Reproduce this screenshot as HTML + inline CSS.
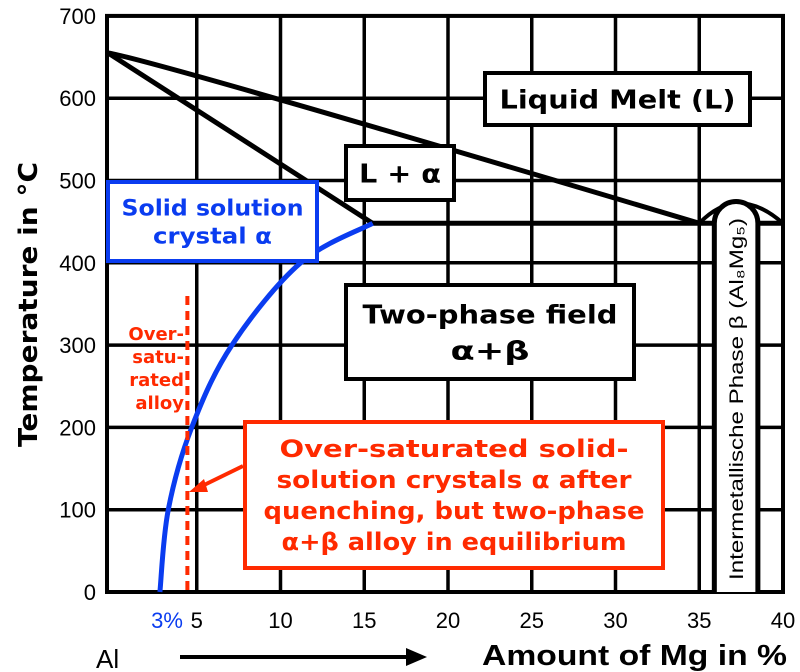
<!DOCTYPE html>
<html><head><meta charset="utf-8"><style>
body{margin:0;background:#fff;width:800px;height:672px;overflow:hidden}
svg{display:block;font-family:"DejaVu Sans","Liberation Sans",sans-serif}
</style></head><body>
<svg id="c" width="800" height="672">
<g id="grid"></g>
<g id="curves"></g>
<g id="labels"></g>
</svg>
<script>
const xTicks=[5,10,15,20,25,30,35,40];
const yTicks=[0,100,200,300,400,500,600,700];
const liquidusMg=[0,10,35];
const liquidusT=[655,598,448];
const solidus=[[0,655],[15.5,448]];
const solvusMg=[2.8,3.3,4.7,7.1,11.2,15.5];
const solvusT=[0,100,200,300,400,448];
const eutecticT=448;
const phaseMg=[35.9,38.5];
const alloyMg=4.5;
const X=v=>113+v*16.75, Y=t=>592-t*0.823;
const NS='http://www.w3.org/2000/svg';
function mk(p,tag,a,name,txt){const e=document.createElementNS(NS,tag);for(const k in a)e.setAttribute(k,a[k]);


if(txt!==undefined)e.textContent=txt;p.appendChild(e);return e;}
const g=document.getElementById('grid'),cv=document.getElementById('curves'),lb=document.getElementById('labels');
xTicks.forEach(v=>{mk(g,'line',{x1:X(v),x2:X(v),y1:Y(700),y2:Y(0),stroke:'#000','stroke-width':3.5},'x-gridline');
mk(lb,'text',{x:X(v),y:628,'text-anchor':'middle','font-size':22,'font-family':'Liberation Sans'},'x-tick-label',v);});
yTicks.forEach(v=>{mk(g,'line',{x1:107,x2:783,y1:Y(v),y2:Y(v),stroke:'#000','stroke-width':3.5},'y-gridline');
mk(lb,'text',{x:96,y:Y(v)+8,'text-anchor':'end','font-size':22,'font-family':'Liberation Sans'},'y-tick-label',v);});
mk(g,'rect',{x:107,y:Y(700),width:676,height:Y(0)-Y(700),fill:'none',stroke:'#000','stroke-width':4},'plot-frame');
const lq=liquidusMg.map((m,i)=>[X(m),Y(liquidusT[i])]);lq[0][0]-=5;
mk(cv,'path',{d:`M${lq[0][0]} ${lq[0][1]} Q${2*lq[1][0]-(lq[0][0]+lq[2][0])/2} ${2*lq[1][1]-(lq[0][1]+lq[2][1])/2} ${lq[2][0]} ${lq[2][1]}`,fill:'none',stroke:'#000','stroke-width':5},'liquidus-line');
mk(cv,'line',{x1:X(solidus[0][0])-5,y1:Y(solidus[0][1]),x2:X(solidus[1][0]),y2:Y(solidus[1][1]),stroke:'#000','stroke-width':5},'solidus-line');
mk(cv,'line',{x1:X(solidus[1][0]),y1:Y(eutecticT),x2:783,y2:Y(eutecticT),stroke:'#000','stroke-width':5},'eutectic-line');
mk(cv,'path',{d:`M${X(35)} ${Y(eutecticT)} Q${X(37.3)} ${Y(eutecticT)-40} 783 ${Y(eutecticT)}`,fill:'none',stroke:'#000','stroke-width':4},'beta-dome');
const px1=X(phaseMg[0]),px2=X(phaseMg[1]),r=(px2-px1)/2;
mk(cv,'path',{d:`M${px1} ${Y(0)} L${px1} ${Y(eutecticT)} A${r} ${r} 0 0 1 ${px2} ${Y(eutecticT)} L${px2} ${Y(0)}`,fill:'#fff',stroke:'#000','stroke-width':5},'beta-phase-band');
mk(cv,'text',{x:0,y:0,'font-size':19,textLength:362,lengthAdjust:'spacingAndGlyphs','font-family':'Liberation Sans',transform:`translate(${(px1+px2)/2+7},580) rotate(-90)`},'beta-phase-label','Intermetallische Phase β (Al₈Mg₅)');
let pts=solvusMg.map((m,i)=>[X(m),Y(solvusT[i])]);
let d='M'+pts[0].join(' ');
for(let i=0;i<pts.length-1;i++){const p0=pts[Math.max(i-1,0)],p1=pts[i],p2=pts[i+1],p3=pts[Math.min(i+2,pts.length-1)];
d+=` C${p1[0]+(p2[0]-p0[0])/6} ${p1[1]+(p2[1]-p0[1])/6} ${p2[0]-(p3[0]-p1[0])/6} ${p2[1]-(p3[1]-p1[1])/6} ${p2[0]} ${p2[1]}`;}
mk(cv,'path',{d,fill:'none',stroke:'#0a3cf0','stroke-width':5},'solvus-curve');
mk(cv,'line',{x1:X(alloyMg)-1,x2:X(alloyMg)-1,y1:296,y2:Y(0),stroke:'#ff2a00','stroke-width':4,'stroke-dasharray':'9 6'},'alloy-line');
function box(x,y,w,h,col,name,lines,widths,fs,lh){mk(lb,'rect',{x,y,width:w,height:h,fill:'#fff',stroke:col,'stroke-width':4},name);
lines.forEach((t,i)=>mk(lb,'text',{x:x+w/2,y:y+h/2+(i-(lines.length-1)/2)*lh+fs*0.36,'text-anchor':'middle','font-size':fs,'font-weight':'bold',fill:col,textLength:widths[i],lengthAdjust:'spacingAndGlyphs'},name+'-text',t));}
box(485,73,265,52,'#000','liquid-box',['Liquid Melt (L)'],[236],26,28);
box(346,146,108,54,'#000','l-alpha-box',['L + α'],[82],26,28);
box(108,182,209,79,'#0a3cf0','alpha-box',['Solid solution','crystal α'],[182,119],22,28);
box(346,285,288,94,'#000','two-phase-box',['Two-phase field','α+β'],[255,79],26,36);
box(245,422,418,146,'#ff2a00','quench-box',['Over-saturated solid-','solution crystals α after','quenching, but two-phase','α+β alloy in equilibrium'],[349,355,381,345],24,31);
['Over-','satu-','rated','alloy'].forEach((t,i)=>mk(lb,'text',{x:184,y:340+i*23,'text-anchor':'end','font-size':18,'font-weight':'bold',fill:'#ff2a00'},'alloy-label',t));
mk(lb,'line',{x1:243,y1:466,x2:200,y2:487,stroke:'#ff2a00','stroke-width':4},'quench-arrow');
mk(lb,'path',{d:'M189 492 L204 479 L208 492 Z',fill:'#ff2a00'},'quench-arrowhead');
mk(lb,'text',{x:167,y:628,'text-anchor':'middle','font-size':22,fill:'#0a3cf0','font-family':'Liberation Sans'},'alloy-tick-label','3%');
mk(lb,'text',{x:0,y:0,'font-size':26,'font-weight':'bold',textLength:285,lengthAdjust:'spacingAndGlyphs',transform:'translate(37,447) rotate(-90)'},'y-axis-title','Temperature in °C');
mk(lb,'text',{x:96,y:668,'font-size':26,'font-family':'Liberation Sans'},'al-label','Al');
mk(lb,'line',{x1:180,y1:657,x2:410,y2:657,stroke:'#000','stroke-width':4},'x-arrow');
mk(lb,'path',{d:'M427 657 L406 648 L406 666 Z',fill:'#000'},'x-arrowhead');
mk(lb,'text',{x:482,y:665,'font-size':29,'font-weight':'bold','font-family':'Liberation Sans',textLength:305,lengthAdjust:'spacingAndGlyphs'},'x-axis-title','Amount of Mg in %');
</script>
</body></html>
